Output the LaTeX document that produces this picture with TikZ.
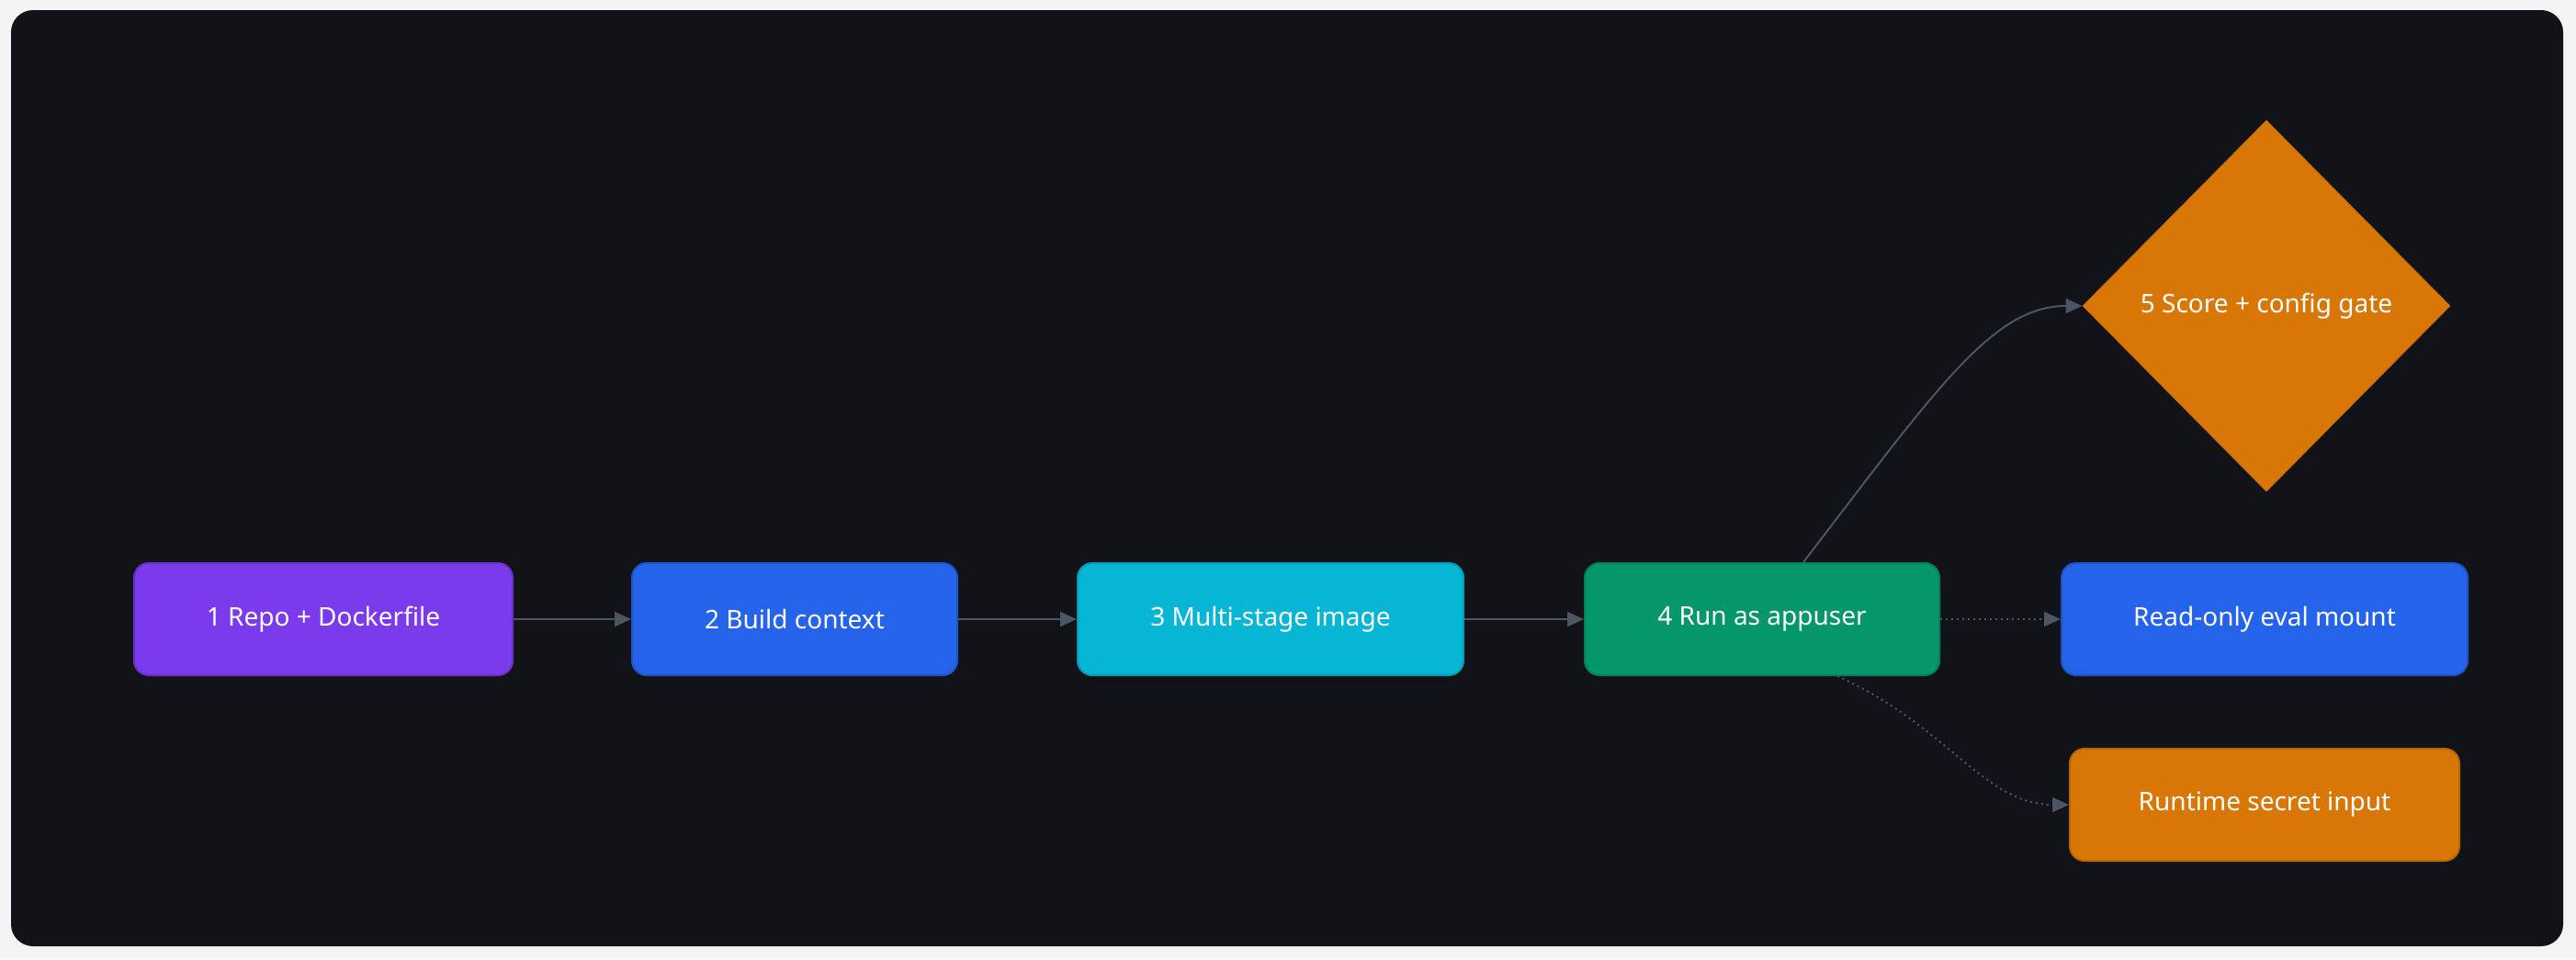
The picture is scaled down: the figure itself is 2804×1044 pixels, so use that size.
\documentclass[tikz,border=0pt]{standalone}
\usepackage{fontspec}
\setmainfont{Noto Sans}
\usetikzlibrary{positioning, arrows.meta, shapes.geometric, calc}
\definecolor{bgdark}{HTML}{111319}
\definecolor{bgouter}{HTML}{F4F4F5}
\definecolor{edgegray}{HTML}{4B5563}
\definecolor{cpurple}{HTML}{7C3AED}
\definecolor{cblue}{HTML}{2563EB}
\definecolor{ccyan}{HTML}{06B6D4}
\definecolor{cgreen}{HTML}{059669}
\definecolor{corange}{HTML}{D97706}
\begin{document}
\begin{tikzpicture}[
        x=0.5pt, y=-0.5pt,
        >={Triangle[length=9pt, width=8pt]},
        stage/.style={rectangle, rounded corners=8pt, text=white, font=\fontsize{14}{16}\selectfont, line width=1pt, minimum height=61pt, inner sep=0pt},
        gate/.style={diamond, text=white, font=\fontsize{14}{16}\selectfont, minimum width=200pt, minimum height=202pt, inner sep=0pt, fill=corange, draw=corange!90!black},
        flow/.style={->, draw=edgegray, line width=1pt},
        opt/.style={->, draw=edgegray, line width=1pt, dotted},
    ]

    % Background panel
    \fill[bgouter] (0,0) rectangle (2804,1044);
    \fill[bgdark, rounded corners=12pt] (12,11) rectangle (2790,1030);

    % Main pipeline
    \node[stage, fill=cpurple, draw=cpurple!85!black, minimum width=206pt] (repo) at (352,674) {1 Repo + Dockerfile};
    \node[stage, fill=cblue, draw=cblue!85!black, minimum width=177pt] (ctx) at (865,674) {2 Build context};
    \node[stage, fill=ccyan, draw=ccyan!85!black, minimum width=210pt] (img) at (1383,674) {3 Multi-stage image};
    \node[stage, fill=cgreen, draw=cgreen!85!black, minimum width=193pt] (run) at (1918,674) {4 Run as appuser};

    % Side outputs
    \node[gate] (gate) at (2467,333) {5 Score + config gate};
    \node[stage, fill=cblue, draw=cblue!85!black, minimum width=221pt] (mount) at (2465,674) {Read-only eval mount};
    \node[stage, fill=corange, draw=corange!85!black, minimum width=212pt] (secret) at (2465,876) {Runtime secret input};

    % Connectors
    \draw[flow] (repo) -- (ctx);
    \draw[flow] (ctx) -- (img);
    \draw[flow] (img) -- (run);
    \draw[flow] ($(run.north)+(45,0)$) .. controls (2110,420) and (2170,333) .. (gate.west);
    \draw[opt] (run) -- (mount);
    \draw[opt] ($(run.south)+(82,0)$) .. controls (2120,790) and (2160,876) .. (secret.west);
\end{tikzpicture}
\end{document}
